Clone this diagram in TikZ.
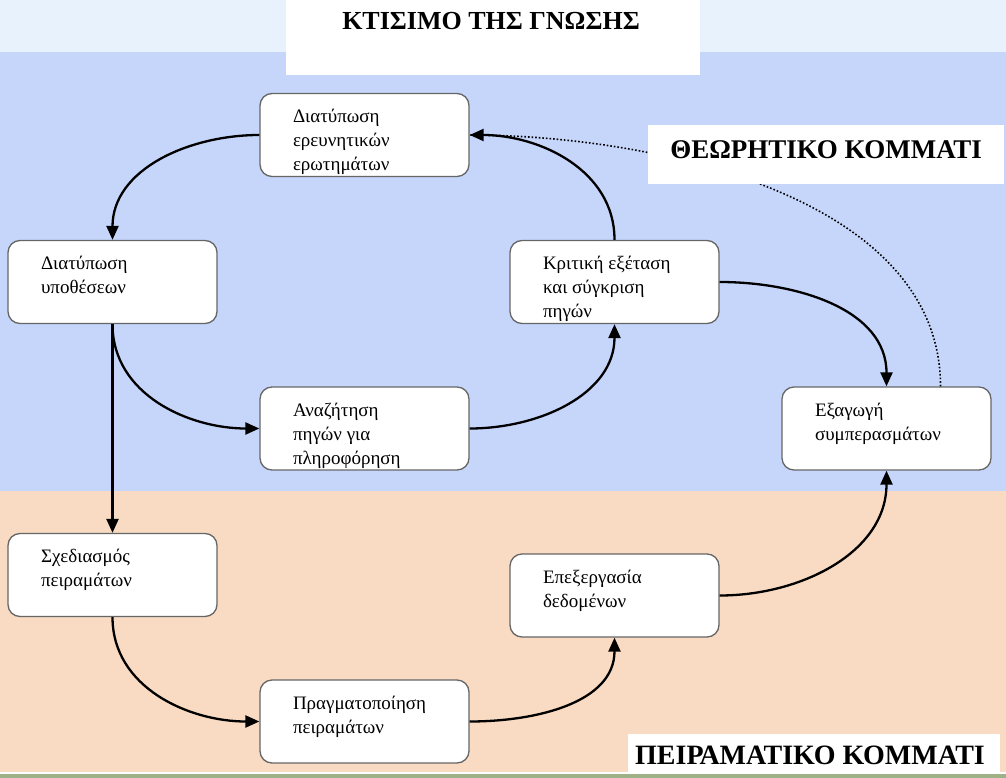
\documentclass[tikz,border=0pt]{standalone}
\usepackage{fontspec}
\setmainfont{Liberation Serif}
\usetikzlibrary{arrows.meta}
\definecolor{topband}{HTML}{E8F2FD}
\definecolor{theoryband}{HTML}{C6D6FB}
\definecolor{labband}{HTML}{F8DBC2}
\definecolor{footband}{HTML}{9FB287}
\newcommand{\stagetext}[1]{\parbox[c][83pt][t]{143pt}{\raggedright\rule{0pt}{29pt}#1}}

\begin{document}
\begin{tikzpicture}[x=1pt,y=1pt,yscale=-1,xscale=1,
  stagebox/.style={draw=black!60, line width=1.3pt, fill=white, rounded corners=12pt,
    minimum width=209pt, minimum height=83pt, inner sep=0pt, font=\fontsize{19}{24}\selectfont},
  flow/.style={line width=2.3pt, -{Triangle[length=14pt,width=12pt]}},
  tagtext/.style={font=\bfseries\fontsize{27}{30}\selectfont, inner sep=0pt}]
  % background bands
  \fill[topband] (0,0) rectangle (1006,52);
  \fill[theoryband] (0,52) rectangle (1006,491);
  \fill[labband] (0,491) rectangle (1006,772);
  \fill[white] (0,772) rectangle (1006,774);
  \fill[footband] (0,774) rectangle (1006,778);

  \node[stagebox] (questions) at (364.5,135) {\stagetext{Διατύπωση\\ ερευνητικών\\ ερωτημάτων}};
  \node[stagebox] (hypotheses) at (112.5,282) {\stagetext{Διατύπωση\\ υποθέσεων}};
  \node[stagebox] (review) at (614.5,282) {\stagetext{Κριτική εξέταση\\ και σύγκριση\\ πηγών}};
  \node[stagebox] (search) at (364.5,428.5) {\stagetext{Αναζήτηση\\ πηγών για\\ πληροφόρηση}};
  \node[stagebox] (conclusions) at (886.5,428.5) {\stagetext{Εξαγωγή\\ συμπερασμάτων}};
  \node[stagebox] (design) at (112.5,575) {\stagetext{Σχεδιασμός\\ πειραμάτων}};
  \node[stagebox] (processing) at (614.5,595.5) {\stagetext{Επεξεργασία\\ δεδομένων}};
  \node[stagebox] (experiments) at (364.5,721.5) {\stagetext{Πραγματοποίηση\\ πειραμάτων}};

  \coordinate (dotstart) at ([xshift=54pt]conclusions.north);

  % y is flipped: -90 points up, 90 points down
  \draw[flow] (questions.west) to[out=180,in=-90] (hypotheses.north);
  \draw[flow] (review.north) to[out=-90,in=0] (questions.east);
  \draw[flow] (hypotheses.south) to[out=90,in=180] (search.west);
  \draw[flow] (search.east) to[out=0,in=90] (review.south);
  \draw[flow] (review.east) to[out=0,in=-90] (conclusions.north);
  \draw[line width=1.6pt, dotted] (dotstart) to[out=-90,in=0,looseness=0.9] (questions.east);
  \draw[flow] (hypotheses.south) -- (design.north);
  \draw[flow] (design.south) to[out=90,in=180] (experiments.west);
  \draw[flow] (experiments.east) to[out=0,in=90] (processing.south);
  \draw[flow] (processing.east) to[out=0,in=90] (conclusions.south);

  % white label panels
  \fill[white] (286,0) rectangle (700,75);
  \fill[white] (648,125) rectangle (1004,184);
  \fill[white] (628,734) rectangle (1000,772);
  \node[tagtext, font=\bfseries\fontsize{26}{30}\selectfont] (title) at (491,21) {ΚΤΙΣΙΜΟ ΤΗΣ ΓΝΩΣΗΣ};
  \node[tagtext] (theory) at (826,150) {ΘΕΩΡΗΤΙΚΟ ΚΟΜΜΑΤΙ};
  \node[tagtext, font=\bfseries\fontsize{28}{30}\selectfont] (lab) at (810,755) {ΠΕΙΡΑΜΑΤΙΚΟ ΚΟΜΜΑΤΙ};
\end{tikzpicture}
\end{document}
